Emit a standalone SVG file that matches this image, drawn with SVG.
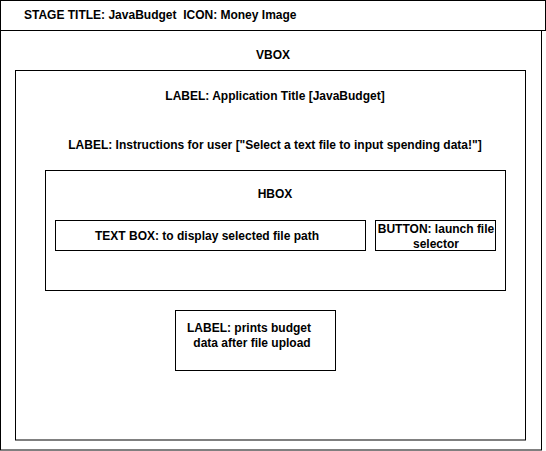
<svg xmlns="http://www.w3.org/2000/svg" width="546" height="451" viewBox="0 0 546 451">
<style>
.b{fill:#fff;stroke:#000;stroke-width:1}
.t{font-family:"Liberation Sans",Arial,sans-serif;font-size:12px;font-weight:bold;fill:#000;text-anchor:middle}
</style>
<rect width="546" height="451" fill="#fff"/>
<g id="window">
<rect class="b" x="0.5" y="30.5" width="541" height="419.5"/>
</g>
<g id="stage-title">
<rect class="b" x="0.5" y="0.5" width="545" height="30"/>
<text class="t" x="24" y="19" style="text-anchor:start">STAGE TITLE: JavaBudget&#160; ICON: Money Image</text>
</g>
<g id="vbox">
<text class="t" x="273" y="59">VBOX</text>
<rect class="b" x="15.5" y="70.5" width="510" height="369.5"/>
</g>
<g id="label-title">
<text class="t" x="275" y="100">LABEL: Application Title [JavaBudget]</text>
</g>
<g id="label-instructions">
<text class="t" x="275" y="149">LABEL: Instructions for user ["Select a text file to input spending data!"]</text>
</g>
<g id="hbox">
<rect class="b" x="45.5" y="170.5" width="460" height="120"/>
<text class="t" x="275" y="198">HBOX</text>
</g>
<g id="textbox">
<rect class="b" x="55.5" y="220.5" width="310" height="30"/>
<text class="t" x="207" y="240">TEXT BOX: to display selected file path</text>
</g>
<g id="button">
<rect class="b" x="375.5" y="220.5" width="120" height="30"/>
<text class="t" x="436" y="233">BUTTON: launch file</text>
<text class="t" x="436" y="248">selector</text>
</g>
<g id="label-output">
<rect class="b" x="175.5" y="310.5" width="160" height="60"/>
<text class="t" x="249" y="332">LABEL: prints budget</text>
<text class="t" x="252" y="347">data after file upload</text>
</g>
<g id="connectors"></g>
</svg>
